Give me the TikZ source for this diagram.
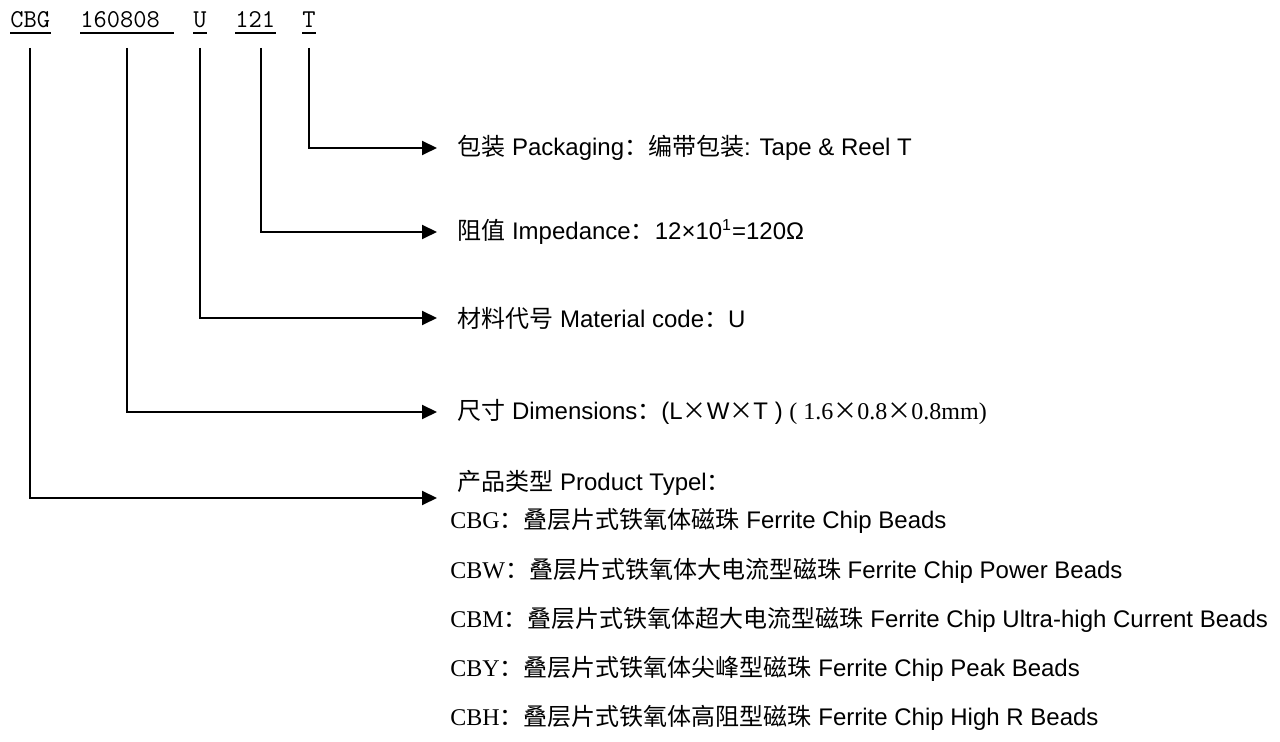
\documentclass[tikz,border=0pt]{standalone}
\usepackage{fontspec}
\setmainfont{Liberation Sans}
\newfontfamily\cjk{Noto Sans CJK SC}
\newfontfamily\timesf{Liberation Serif}
\usetikzlibrary{arrows.meta,calc,positioning}
\newcommand{\zh}[1]{{\cjk #1}}
\newcommand{\tm}[1]{{\timesf #1}}

\begin{document}
\begin{tikzpicture}[x=0.5pt,y=-0.5pt,
  code/.style={anchor=base west,inner sep=0pt,font=\ttfamily\fontsize{12.85pt}{14pt}\selectfont},
  uline/.style={line width=1pt},
  label/.style={anchor=west,inner sep=0pt,font=\fontsize{12pt}{14pt}\selectfont},
  link/.style={line width=1pt,-{Triangle[length=7.5pt,width=7pt]}}]
  \useasboundingbox (0,0) rectangle (1280,742);
  % part number
  \node[code] (cbg)  at (10,28)  {CBG};
  \node[code] (size) at (80,28)  {160808\kern6.75pt};
  \node[code] (mat)  at (193,28) {U};
  \node[code] (imp)  at (235,28) {121};
  \node[code] (pack) at (302,28) {T};
  \foreach \n in {cbg,size,mat,imp,pack}
    \draw[uline] ([yshift=-2.5pt]\n.base west) -- ([yshift=-2.5pt]\n.base east);
  % descriptions
  \node[label] (tpack) at (457,148) {\zh{包装} Packaging\zh{：编带包装}: Tape \& Reel T};
  \node[label] (timp)  at (457,232) {\zh{阻值} Impedance\zh{：}12×10\textsuperscript{1}=120Ω};
  \node[label] (tmat)  at (457,318) {\zh{材料代号} Material code\zh{：}U};
  \node[label] (tdim)  at (457,412) {\zh{尺寸} Dimensions\zh{：}(L\zh{×}W\zh{×}T ) \tm{( 1.6\zh{×}0.8\zh{×}0.8mm)}};
  \node[label] (ttype) at (457,483) {\zh{产品类型} Product Typel\zh{：}};
  \coordinate (typeend) at (437,498);
  \node[label] (tcbg) at (450,521) {\tm{CBG}\zh{：叠层片式铁氧体磁珠} Ferrite Chip Beads};
  \node[label] (tcbw) at (450,571) {\tm{CBW}\zh{：叠层片式铁氧体大电流型磁珠} Ferrite Chip Power Beads};
  \node[label] (tcbm) at (450,620) {\tm{CBM}\zh{：叠层片式铁氧体超大电流型磁珠} Ferrite Chip Ultra-high Current Beads};
  \node[label] (tcby) at (450,669) {\tm{CBY}\zh{：叠层片式铁氧体尖峰型磁珠} Ferrite Chip Peak Beads};
  \node[label] (tcbh) at (450,718) {\tm{CBH}\zh{：叠层片式铁氧体高阻型磁珠} Ferrite Chip High R Beads};
  % leaders
  \draw[link] ([yshift=-10pt]pack.base) |- ([xshift=-10pt]tpack.west);
  \draw[link] ([xshift=3pt,yshift=-10pt]imp.base) |- ([xshift=-10pt]timp.west);
  \draw[link] ([yshift=-10pt]mat.base) |- ([xshift=-10pt]tmat.west);
  \draw[link] ([yshift=-10pt]size.base) |- ([xshift=-10pt]tdim.west);
  \draw[link] ([yshift=-10pt]cbg.base) |- (typeend);
\end{tikzpicture}
\end{document}
